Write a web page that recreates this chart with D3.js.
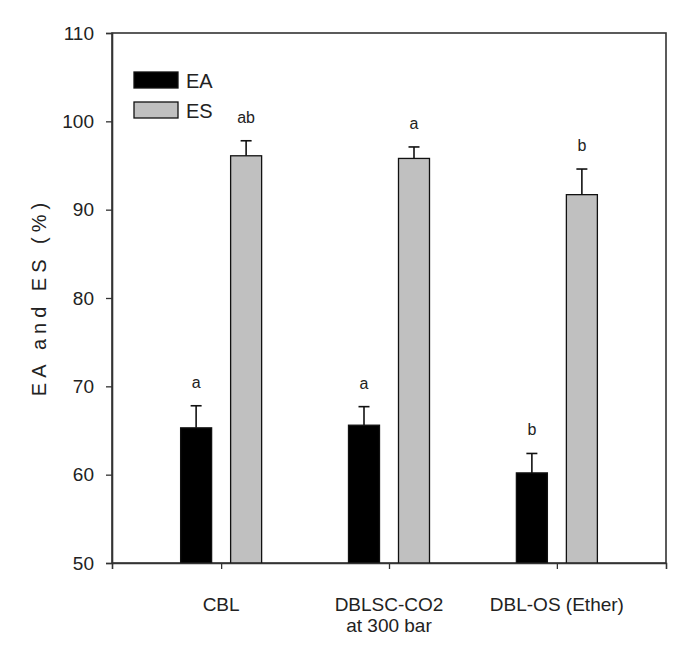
<!DOCTYPE html>
<html>
<head>
<meta charset="utf-8">
<script src="https://cdn.jsdelivr.net/npm/d3@7"></script>
<style>
  html, body { margin: 0; padding: 0; background: #fff; }
  svg { display: block; }
  text { font-family: 'Liberation Sans Narrow', 'Arial Narrow', 'Liberation Sans', Arial, sans-serif; fill: #222; }
</style>
</head>
<body>
<svg id="chart" width="688" height="658"></svg>
<script>
// ---- data ----
const categories = ["CBL", "DBLSC-CO2\nat 300 bar", "DBL-OS (Ether)"];
const seriesNames = ["EA", "ES"];
const eaValues = [65.3, 65.6, 60.2];
const eaErrors = [2.5, 2.1, 2.2];
const esValues = [96.1, 95.8, 91.7];
const esErrors = [1.7, 1.3, 2.9];
const eaLetters = ["a", "a", "b"];
const esLetters = ["ab", "a", "b"];
const yTicks = [50, 60, 70, 80, 90, 100, 110];
const yTitle = "EA and ES (%)";

// ---- layout ----
(function () {
const svg = d3.select("#chart");
const mLeft = 112, mRight = 666, mTop = 33, mBottom = 563;
const fills = ["#000000", "#c0c0c0"];
const barW = 31, barOffset = 25;
const fontFam = "'Liberation Sans Narrow', 'Arial Narrow', 'Liberation Sans', Arial, sans-serif";

const x = d3.scalePoint().domain(categories).range([mLeft, mRight]).padding(0.65);
const y = d3.scaleLinear().domain([50, 110]).range([mBottom, mTop]);

const series = [
  { name: seriesNames[0], values: eaValues, errors: eaErrors, letters: eaLetters, fill: fills[0], dx: -barOffset },
  { name: seriesNames[1], values: esValues, errors: esErrors, letters: esLetters, fill: fills[1], dx: barOffset }
];

// frame
svg.append("rect")
  .attr("x", mLeft).attr("y", mTop)
  .attr("width", mRight - mLeft).attr("height", mBottom - mTop)
  .attr("fill", "none").attr("stroke", "#333").attr("stroke-width", 1.6);

// bars
series.forEach(s => {
  const g = svg.append("g");
  categories.forEach((c, i) => {
    const cx = x(c) + s.dx;
    const v = s.values[i], e = s.errors[i];
    g.append("line")
      .attr("x1", cx).attr("x2", cx)
      .attr("y1", y(v)).attr("y2", y(v + e))
      .attr("stroke", "#111").attr("stroke-width", 1.6);
    g.append("line")
      .attr("x1", cx - 5.5).attr("x2", cx + 5.5)
      .attr("y1", y(v + e)).attr("y2", y(v + e))
      .attr("stroke", "#111").attr("stroke-width", 1.6);
    g.append("rect")
      .attr("x", cx - barW / 2).attr("y", y(v))
      .attr("width", barW).attr("height", y(50) - y(v))
      .attr("fill", s.fill).attr("stroke", "#111").attr("stroke-width", 1.3);
    g.append("text")
      .attr("x", cx).attr("y", y(v + e) - 18)
      .attr("text-anchor", "middle")
      .attr("font-size", 16)
      .attr("fill", "#333")
      .text(s.letters[i]);
  });
});

// y axis
const yAxis = d3.axisLeft(y).tickValues(yTicks).tickSize(6).tickPadding(12).tickFormat(d3.format("d"));
const gy = svg.append("g").attr("transform", `translate(${mLeft},0)`).call(yAxis);
gy.select(".domain").attr("stroke", "#333").attr("stroke-width", 1.6);
gy.selectAll(".tick line").attr("stroke", "#333").attr("stroke-width", 1.3);
gy.selectAll(".tick text").attr("font-size", 19).attr("fill", "#222").style("font-family", fontFam);

// x axis
const xAxis = d3.axisBottom(x).tickSize(6).tickFormat("");
const gx = svg.append("g").attr("transform", `translate(0,${mBottom})`).call(xAxis);
gx.select(".domain").attr("stroke", "#333").attr("stroke-width", 1.6);
gx.selectAll(".tick line").attr("stroke", "#333").attr("stroke-width", 1.3);

// x labels
categories.forEach(c => {
  const lines = c.split("\n");
  const t = svg.append("text")
    .attr("text-anchor", "middle")
    .attr("font-size", 19);
  lines.forEach((ln, k) => {
    t.append("tspan").attr("x", x(c)).attr("y", 611 + k * 21).text(ln);
  });
});

// y title
svg.append("text")
  .attr("transform", `translate(46,${(mTop + mBottom) / 2 - 1}) rotate(-90)`)
  .attr("text-anchor", "middle")
  .attr("font-size", 20)
  .attr("letter-spacing", 5)
  .text(yTitle);

// legend
const leg = svg.append("g");
series.forEach((s, i) => {
  leg.append("rect")
    .attr("x", 134).attr("y", 72 + i * 30)
    .attr("width", 44).attr("height", 16)
    .attr("fill", s.fill).attr("stroke", "#111").attr("stroke-width", 1.3);
  leg.append("text")
    .attr("x", 186).attr("y", 88 + i * 30)
    .attr("font-size", 20)
    .text(s.name);
});
})();
</script>
</body>
</html>
